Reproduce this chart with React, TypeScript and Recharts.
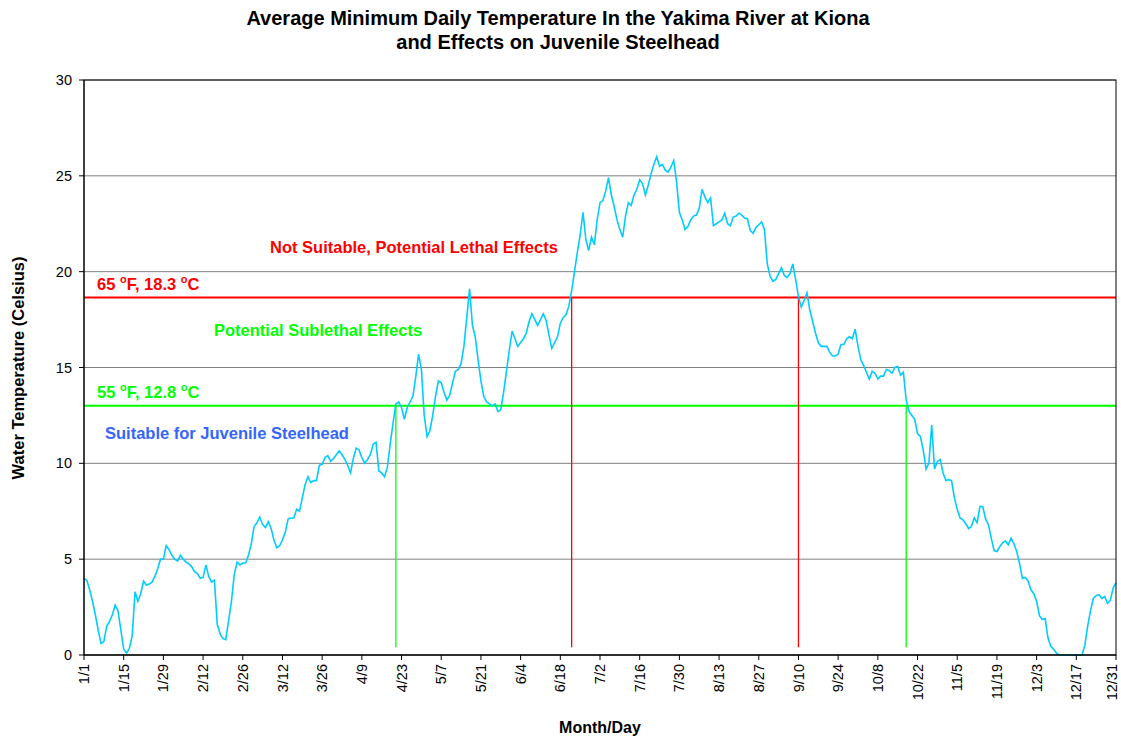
import { LineChart, Line, XAxis, YAxis, CartesianGrid, ReferenceLine } from 'recharts';

// average minimum daily temperature, one value per day from 1/1 to 12/31 (deg C)
const temps = [
  4.0, 3.9, 3.4, 2.8, 2.1, 1.3, 0.6, 0.7, 1.5, 1.75,
  2.1, 2.6, 2.3, 1.3, 0.3, 0.1, 0.35, 1.0, 3.3, 2.8,
  3.2, 3.85, 3.65, 3.7, 3.8, 4.1, 4.5, 5.0, 5.0, 5.7,
  5.5, 5.2, 5.0, 4.9, 5.2, 5.0, 4.85, 4.75, 4.6, 4.35,
  4.25, 4.0, 4.05, 4.7, 4.1, 3.8, 3.9, 1.6, 1.1, 0.85,
  0.8, 1.8, 2.8, 4.2, 4.85, 4.7, 4.8, 4.8, 5.2, 5.8,
  6.7, 6.9, 7.2, 6.8, 6.65, 6.95, 6.6, 6.0, 5.6, 5.7,
  6.0, 6.4, 7.1, 7.15, 7.15, 7.6, 7.5, 8.2, 8.9, 9.3,
  9.0, 9.1, 9.1, 9.9, 9.95, 10.3, 10.4, 10.1, 10.25, 10.45,
  10.65, 10.45, 10.2, 9.9, 9.5, 10.25, 10.8, 10.7, 10.3, 10.0,
  10.2, 10.45, 11.0, 11.1, 9.6, 9.5, 9.3, 9.8, 11.0, 12.1,
  13.1, 13.2, 12.9, 12.3, 12.9, 13.2, 13.5, 14.5, 15.7, 14.9,
  12.5, 11.4, 11.7, 12.5, 13.5, 14.3, 14.2, 13.7, 13.3, 13.55,
  14.2, 14.8, 14.9, 15.2, 16.1, 17.6, 19.1, 17.2, 16.6, 15.4,
  14.3, 13.5, 13.2, 13.1, 13.0, 13.1, 12.7, 12.8, 13.7, 14.8,
  15.9, 16.9, 16.5, 16.1, 16.3, 16.5, 16.8, 17.4, 17.8, 17.5,
  17.2, 17.5, 17.8, 17.45, 16.7, 16.0, 16.3, 16.6, 17.3, 17.6,
  17.75, 18.2, 19.0, 20.0, 21.0, 21.9, 23.1, 21.7, 21.1, 21.8,
  21.4, 22.7, 23.6, 23.7, 24.2, 24.9, 24.0, 23.4, 22.7, 22.2,
  21.8, 22.9, 23.6, 23.45, 24.0, 24.3, 24.8, 24.6, 24.0, 24.5,
  25.1, 25.6, 26.0, 25.5, 25.6, 25.3, 25.2, 25.45, 25.8, 24.7,
  23.1, 22.7, 22.2, 22.35, 22.7, 22.9, 22.95, 23.3, 24.3, 23.9,
  23.6, 23.85, 22.4, 22.5, 22.6, 22.7, 23.05, 22.5, 22.4, 22.85,
  22.9, 23.05, 22.95, 22.8, 22.75, 22.15, 22.0, 22.3, 22.45, 22.6,
  22.2, 20.4, 19.75, 19.5, 19.6, 19.9, 20.2, 19.8, 19.7, 19.9,
  20.4, 19.6, 18.7, 18.15, 18.5, 18.9, 18.0, 17.4, 16.8, 16.3,
  16.1, 16.1, 16.1, 15.8, 15.6, 15.6, 15.7, 16.2, 16.2, 16.5,
  16.6, 16.5, 17.0, 16.1, 15.4, 15.1, 14.75, 14.4, 14.8, 14.7,
  14.4, 14.55, 14.55, 14.9, 14.85, 14.7, 15.0, 15.05, 14.6, 14.75,
  13.3, 12.7, 12.5, 12.3, 11.55, 11.4, 10.7, 9.7, 10.0, 12.0,
  9.7, 10.1, 10.2, 9.5, 9.1, 9.15, 9.1, 8.2, 7.6, 7.15,
  7.05, 6.85, 6.6, 6.7, 7.15, 6.9, 7.75, 7.75, 7.1, 6.8,
  6.1, 5.45, 5.4, 5.65, 5.85, 5.95, 5.75, 6.1, 5.8, 5.4,
  4.75, 4.0, 4.05, 3.85, 3.4, 3.2, 2.8, 2.05, 1.85, 1.9,
  0.9, 0.45, 0.3, 0.1, 0, 0, 0, 0, 0, 0,
  0, 0, 0, 0.5, 1.5, 2.3, 2.95, 3.1, 3.15, 2.95,
  3.05, 2.7, 2.85, 3.5, 3.77,
];

const tickDays = [0, 14, 28, 42, 56, 70, 84, 98, 112, 126, 140, 154, 168, 182, 196, 210, 224, 238, 252, 266, 280, 294, 308, 322, 336, 350, 364];
const tickLabels = ['1/1', '1/15', '1/29', '2/12', '2/26', '3/12', '3/26', '4/9', '4/23', '5/7', '5/21', '6/4', '6/18', '7/2', '7/16', '7/30', '8/13', '8/27', '9/10', '9/24', '10/8', '10/22', '11/5', '11/19', '12/3', '12/17', '12/31'];
const yTicks = [0, 5, 10, 15, 20, 25, 30];

// threshold lines as drawn in the original and the days the curve crosses them
const lethalLine = 18.65;
const sublethalLine = 13.0;
const lethalDays = [172, 252];
const sublethalDays = [110, 290];
const dropFloor = 0.4;

const data = temps.map((temp, day) => ({ day, temp }));

const FONT = '"Liberation Sans", Arial, Helvetica, sans-serif';
const RED = '#FF0000';
const GREEN = '#00FF00';
const BLUE = '#3366FF';

function DateTick({ x, y, payload }: any) {
  const idx = tickDays.indexOf(payload.value);
  // last label would hang over the page edge, nudge it in a bit
  const shift = idx === tickDays.length - 1 ? -4 : 0;
  return (
    <g transform={`translate(${x + shift},${y})`}>
      <text x={0} y={0} dy="0.35em" transform="rotate(-90)" textAnchor="end" fontSize={14.5} fontFamily={FONT} fill="#000">
        {tickLabels[idx]}
      </text>
    </g>
  );
}

export default function App() {
  return (
    <div style={{ position: 'relative', width: 1121, height: 740, background: '#fff' }}>
      <style>{'body{margin:0}'}</style>
      <LineChart width={1121} height={740} data={data} margin={{ top: 80, right: 5, bottom: 25, left: 24 }}>
        <CartesianGrid horizontal vertical={false} stroke="#808080" />
        <XAxis
          type="number"
          dataKey="day"
          domain={[0, 364]}
          ticks={tickDays}
          interval={0}
          height={60}
          tickSize={5}
          tickMargin={4}
          tick={<DateTick />}
          axisLine={{ stroke: '#000' }}
          tickLine={{ stroke: '#000' }}
        />
        <YAxis
          domain={[0, 30]}
          ticks={yTicks}
          width={60}
          tickSize={5}
          tickMargin={7}
          tick={{ fontSize: 14.5, fill: '#000', fontFamily: FONT }}
          axisLine={{ stroke: '#000' }}
          tickLine={{ stroke: '#000' }}
        />
        <ReferenceLine y={lethalLine} stroke={RED} strokeWidth={2} />
        <ReferenceLine y={sublethalLine} stroke={GREEN} strokeWidth={2} />
        {lethalDays.map((d) => (
          <ReferenceLine key={'r' + d} segment={[{ x: d, y: lethalLine }, { x: d, y: dropFloor }]} stroke={RED} strokeWidth={1.3} />
        ))}
        {sublethalDays.map((d) => (
          <ReferenceLine key={'g' + d} segment={[{ x: d, y: sublethalLine }, { x: d, y: dropFloor }]} stroke={GREEN} strokeWidth={1.3} />
        ))}
        <Line type="linear" dataKey="temp" stroke="#00CCFF" strokeWidth={1.6} dot={false} isAnimationActive={false} />
      </LineChart>

      <svg width={1121} height={740} style={{ position: 'absolute', left: 0, top: 0, pointerEvents: 'none' }} fontFamily={FONT} fontWeight="bold">
        <rect x={84} y={80} width={1032} height={575} fill="none" stroke="#000" strokeWidth={1} />
        <text x={558} y={25} textAnchor="middle" fontSize={20}>Average Minimum Daily Temperature In the Yakima River at Kiona</text>
        <text x={558} y={49} textAnchor="middle" fontSize={20}>and Effects on Juvenile Steelhead</text>
        <text transform="translate(24,368) rotate(-90)" textAnchor="middle" fontSize={16.5}>Water Temperature (Celsius)</text>
        <text x={600} y={733} textAnchor="middle" fontSize={16}>Month/Day</text>

        <text x={270} y={252.5} fontSize={16.5} fill={RED}>Not Suitable, Potential Lethal Effects</text>
        <text x={97} y={290} fontSize={16.5} fill={RED}>
          65 <tspan fontSize={11} dy={-7}>o</tspan><tspan dy={7}>F, 18.3 </tspan><tspan fontSize={11} dy={-7}>o</tspan><tspan dy={7}>C</tspan>
        </text>
        <text x={214} y={336} fontSize={16.5} fill={GREEN}>Potential Sublethal Effects</text>
        <text x={97} y={398} fontSize={16.5} fill={GREEN}>
          55 <tspan fontSize={11} dy={-7}>o</tspan><tspan dy={7}>F, 12.8 </tspan><tspan fontSize={11} dy={-7}>o</tspan><tspan dy={7}>C</tspan>
        </text>
        <text x={105} y={438.5} fontSize={16.5} fill={BLUE}>Suitable for Juvenile Steelhead</text>
      </svg>
    </div>
  );
}
